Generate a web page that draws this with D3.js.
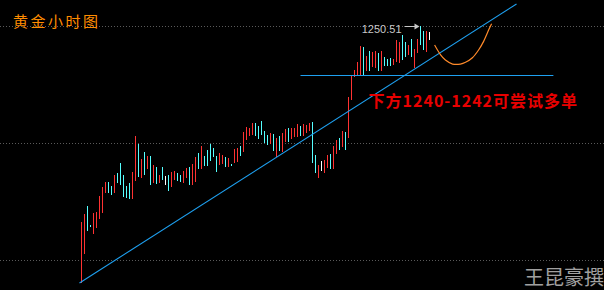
<!DOCTYPE html>
<html>
<head>
<meta charset="utf-8">
<script src="https://cdn.jsdelivr.net/npm/d3@7"></script>
<style>
  html, body { margin: 0; padding: 0; background: #000; }
  svg { display: block; }
</style>
</head>
<body>
<div id="chart"></div>
<script>
// hourly gold bars (index 0 = first bar on the left)
var highs = [1216.5,1217.9,1219.2,1216.0,1218.0,1218.2,1221.0,1222.5,1223.4,1223.4,
  1222.7,1224.6,1225.0,1226.7,1224.6,1222.7,1223.2,1225.2,1231.4,1230.0,
  1227.4,1228.6,1227.9,1227.9,1226.4,1226.0,1224.6,1226.0,1224.5,1224.6,
  1225.2,1225.3,1225.0,1224.6,1225.3,1225.8,1226.0,1226.5,1227.8,1228.5,
  1229.7,1227.9,1229.0,1230.0,1229.3,1227.9,1228.5,1228.1,1227.8,1227.6,
  1226.5,1229.1,1229.3,1229.7,1232.1,1233.0,1232.8,1233.7,1233.7,1233.1,
  1234.0,1232.3,1231.6,1231.9,1231.8,1231.1,1231.4,1231.9,1232.6,1232.8,
  1232.8,1232.8,1233.5,1233.1,1233.5,1233.3,1233.7,1233.8,1228.1,1226.4,
  1227.1,1227.2,1228.1,1228.3,1229.7,1230.7,1231.1,1232.3,1232.1,1238.2,
  1241.8,1242.9,1244.3,1247.0,1246.9,1245.3,1246.2,1246.0,1246.2,1245.8,
  1246.2,1245.1,1244.8,1245.0,1244.8,1248.1,1247.7,1248.9,1247.7,1247.2,
  1248.3,1246.5,1248.3,1250.51,1249.6,1249.6,1249.5];
var lows = [1205.9,1210.9,1214.9,1215.6,1214.4,1215.4,1217.0,1218.0,1221.5,1221.5,
  1221.2,1221.5,1223.2,1222.9,1220.8,1220.6,1220.5,1220.5,1223.6,1224.3,
  1224.1,1224.6,1225.7,1222.9,1223.2,1223.1,1223.2,1223.8,1222.9,1221.9,
  1222.5,1223.8,1223.6,1223.4,1223.2,1224.1,1222.9,1222.9,1223.4,1225.7,
  1225.7,1226.2,1226.2,1227.1,1227.8,1225.2,1226.4,1226.5,1226.0,1226.0,
  1226.2,1226.7,1226.9,1227.9,1228.6,1230.7,1231.4,1231.6,1231.4,1230.9,
  1231.6,1230.2,1229.8,1230.0,1228.8,1227.8,1228.8,1228.6,1230.4,1230.4,
  1230.9,1231.2,1231.2,1231.4,1231.4,1231.9,1232.3,1226.7,1225.0,1224.1,
  1225.3,1225.0,1225.8,1225.7,1225.7,1228.3,1229.0,1229.5,1229.0,1231.1,
  1237.7,1241.6,1241.8,1241.8,1241.8,1242.7,1242.7,1243.4,1243.2,1242.7,
  1242.7,1243.6,1243.6,1243.6,1243.7,1244.3,1244.1,1244.6,1245.1,1245.5,
  1245.1,1243.2,1245.8,1247.2,1246.3,1246.0,1248.1];
// 1 = up (red), -1 = down (cyan), 0 = doji (white)
var dirs = [1,1,-1,-1,1,1,1,1,1,-1, -1,1,-1,-1,-1,-1,-1,1,1,-1,
  1,-1,1,-1,1,-1,1,-1,0,-1, 1,1,-1,-1,1,1,-1,1,1,-1,
  1,-1,-1,-1,-1,-1,1,1,-1,1, -1,1,1,-1,1,1,1,1,-1,-1,
  -1,-1,-1,1,-1,1,-1,1,1,-1, 1,1,1,-1,1,1,1,-1,-1,1,
  0,1,1,-1,1,1,-1,1,-1,1, 1,1,1,1,-1,1,-1,1,1,-1,
  1,-1,-1,-1,1,1,1,-1,-1,1, -1,1,1,-1,-1,1,0];

var gridPrices = [1250.51, 1230.19, 1209.87];
var highLabel = "1250.51";
var supportPrice = 1242.0;
var supportRange = [73, 157.3];
// trend line through the lows, [bar index, price]
var trendPts = [[-0.67, 1205.88], [145, 1254.33]];
// expected path drawn in orange, [bar index, price]
var pathPts = [[117.7,1247.2],[119.7,1245.5],[121.3,1244.6],[123.7,1243.9],[126.3,1243.9],
  [128,1244.2],[130.3,1245.0],[132.3,1246.3],[134,1247.8],[135.7,1249.8],[136.7,1250.9]];

var title = "黄金小时图";
var note = "下方1240-1242可尝试多单";
var author = "王昆豪撰";

var W = 604, H = 290;
var colors = { "1": "#ff3232", "-1": "#55ffff", "0": "#ffffff" };

var svg = d3.select("#chart").append("svg")
  .attr("width", W).attr("height", H)
  .style("background", "#000");

var x = d3.scaleLinear().domain([0, 1]).range([81.5, 84.5]);
var y = d3.scaleLinear().domain([1209.87, 1250.51]).range([260, 26]);

// dotted grid
svg.selectAll("line.grid")
  .data(gridPrices)
  .enter().append("line")
  .attr("class", "grid")
  .attr("x1", 0).attr("x2", W)
  .attr("y1", function (d) { return Math.round(y(d)) + 0.5; })
  .attr("y2", function (d) { return Math.round(y(d)) + 0.5; })
  .attr("stroke", "#5a5a5a")
  .attr("stroke-dasharray", "1,2");

// bars
svg.selectAll("line.bar")
  .data(highs)
  .enter().append("line")
  .attr("class", "bar")
  .attr("x1", function (d, i) { return x(i); })
  .attr("x2", function (d, i) { return x(i); })
  .attr("y1", function (d) { return y(d); })
  .attr("y2", function (d, i) { return y(lows[i]); })
  .attr("stroke", function (d, i) { return colors[dirs[i]]; })
  .attr("stroke-width", 1)
  .attr("shape-rendering", "crispEdges");

// support line
svg.append("line")
  .attr("x1", x(supportRange[0])).attr("x2", x(supportRange[1]))
  .attr("y1", Math.round(y(supportPrice)) + 0.5)
  .attr("y2", Math.round(y(supportPrice)) + 0.5)
  .attr("stroke", "#1ea0f0")
  .attr("stroke-width", 1);

// trend line
svg.append("line")
  .attr("x1", x(trendPts[0][0])).attr("y1", y(trendPts[0][1]))
  .attr("x2", x(trendPts[1][0])).attr("y2", y(trendPts[1][1]))
  .attr("stroke", "#1ea0f0")
  .attr("stroke-width", 1.1);

// orange path
var line = d3.line()
  .x(function (d) { return x(d[0]); })
  .y(function (d) { return y(d[1]); })
  .curve(d3.curveCatmullRom);
svg.append("path")
  .attr("d", line(pathPts))
  .attr("fill", "none")
  .attr("stroke", "#ff8a2a")
  .attr("stroke-width", 1.2);

// high label and arrow
var hiIdx = highs.indexOf(d3.max(highs));
var hy = Math.round(y(highs[hiIdx])) + 0.5;
svg.append("text")
  .attr("x", x(hiIdx) - 19).attr("y", hy + 6)
  .attr("text-anchor", "end")
  .attr("fill", "#c8c8c8")
  .style("font", "11px 'Liberation Sans', Arial, sans-serif")
  .text(highLabel);
svg.append("line")
  .attr("x1", x(hiIdx) - 16).attr("x2", x(hiIdx) - 5)
  .attr("y1", hy).attr("y2", hy)
  .attr("stroke", "#c8c8c8");
svg.append("path")
  .attr("d", "M" + (x(hiIdx) - 6) + "," + (hy - 3) + "L" + (x(hiIdx) - 1) + "," + hy + "L" + (x(hiIdx) - 6) + "," + (hy + 3) + "Z")
  .attr("fill", "#c8c8c8");

// title
svg.append("text")
  .attr("x", 13).attr("y", 27)
  .attr("fill", "#ff8c00")
  .style("font", "15px 'Noto Sans CJK SC', sans-serif")
  .style("letter-spacing", "2.5px")
  .text(title);

// note
svg.append("text")
  .attr("x", x(95.7)).attr("y", y(1236.5))
  .attr("fill", "#e80000")
  .style("font", "bold 16px 'Noto Sans CJK SC', sans-serif")
  .style("letter-spacing", "1px")
  .text(note);

// author
svg.append("text")
  .attr("x", 524).attr("y", 285)
  .attr("fill", "#a0a0a0")
  .style("font", "20px 'Noto Sans CJK SC', sans-serif")
  .text(author);
</script>
</body>
</html>
